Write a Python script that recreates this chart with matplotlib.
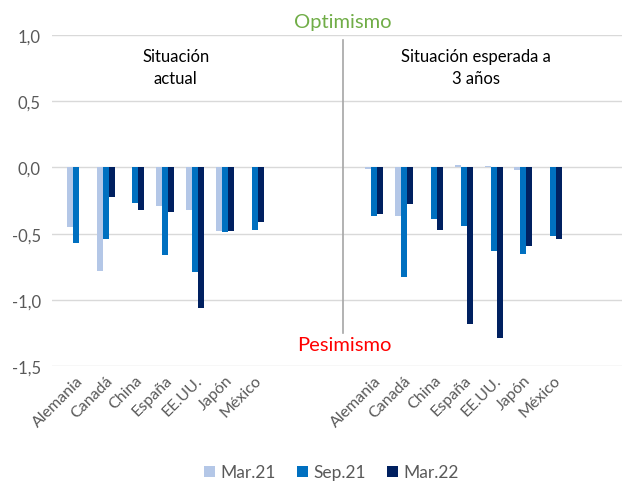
import numpy as np
import matplotlib
matplotlib.use("Agg")
import matplotlib.pyplot as plt

plt.rcParams['font.family'] = ['Lato', 'DejaVu Sans']

paises = ['Alemania', 'Canadá', 'China', 'España', 'EE.UU.', 'Japón', 'México']

# situación actual
actual_mar21 = [-0.45, -0.78, np.nan, -0.29, -0.32, -0.48, np.nan]
actual_sep21 = [-0.57, -0.54, -0.27, -0.66, -0.79, -0.49, -0.47]
actual_mar22 = [np.nan, -0.22, -0.32, -0.34, -1.06, -0.48, -0.41]

# situación esperada a 3 años
esperada_mar21 = [-0.01, -0.37, np.nan, 0.02, 0.01, -0.02, np.nan]
esperada_sep21 = [-0.37, -0.83, -0.39, -0.44, -0.63, -0.65, -0.52]
esperada_mar22 = [-0.35, -0.28, -0.47, -1.18, -1.29, -0.59, -0.54]

series = ['Mar.21', 'Sep.21', 'Mar.22']
colores = ['#B4C7E7', '#0070C0', '#002060']

fig = plt.figure(figsize=(6.25, 4.85), dpi=100)
ax = fig.add_axes([0.083, 0.243, 0.912, 0.683])

pos_izq = np.arange(7)
pos_der = np.arange(7) + 10
w = 0.2
datos = [(actual_mar21, esperada_mar21), (actual_sep21, esperada_sep21), (actual_mar22, esperada_mar22)]
for k, (izq, der) in enumerate(datos):
    off = (k - 1) * w
    ax.bar(pos_izq + off, izq, width=w, color=colores[k], label=series[k], zorder=3)
    ax.bar(pos_der + off, der, width=w, color=colores[k], zorder=3)

ax.set_ylim(-1.5, 1.0)
ax.set_xlim(-0.8, 18.3)
ax.set_yticks([-1.5, -1.0, -0.5, 0.0, 0.5, 1.0])
ax.set_yticklabels(['-1,5', '-1,0', '-0,5', '0,0', '0,5', '1,0'])
ax.grid(axis='y', color='#D9D9D9', linewidth=1, zorder=0)
for s in ax.spines.values():
    s.set_visible(False)
ax.tick_params(axis='both', length=0, labelsize=12, colors='#595959', pad=8)

ax.set_xticks(list(pos_izq) + list(pos_der))
ax.set_xticklabels(paises + paises, rotation=45, ha='right', rotation_mode='anchor',
                   fontsize=11.5, color='#595959')
ax.tick_params(axis='x', pad=5)

# separador central
ax.plot([8.96, 8.96], [0.96, -1.25], color='#A6A6A6', linewidth=1.2, zorder=4)

ax.text(3.35, 0.76, 'Situación\nactual', ha='center', va='center', fontsize=12,
        linespacing=1.45, color='black')
ax.text(13.4, 0.76, 'Situación esperada a\n3 años', ha='center', va='center', fontsize=12,
        linespacing=1.45, color='black')
ax.text(8.96, 1.10, 'Optimismo', ha='center', va='center', fontsize=14.5, color='#70AD47',
        clip_on=False)
ax.text(8.99, -1.34, 'Pesimismo', ha='center', va='center', fontsize=14.5, color='#FF0000',
        zorder=5)

fig.legend(loc='lower center', bbox_to_anchor=(0.53, -0.025), ncol=3, frameon=False,
           fontsize=12.5, handlelength=0.65, handleheight=0.65, handletextpad=0.3,
           columnspacing=1.2, labelcolor='#595959')

fig.savefig('out.png', dpi=100)
